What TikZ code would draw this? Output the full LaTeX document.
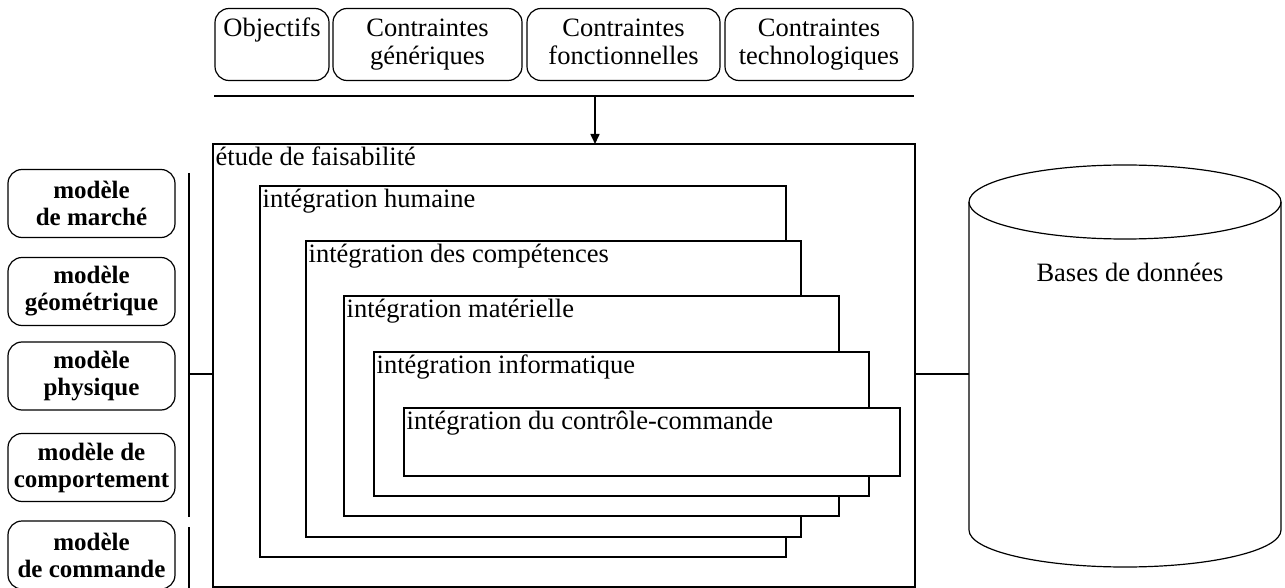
\documentclass[tikz,border=0pt]{standalone}
\usepackage{fontspec}
\setmainfont{Liberation Serif}
\usetikzlibrary{arrows.meta}

\begin{document}
\begin{tikzpicture}[x=1pt, y=-1pt,
    cadre/.style={draw, fill=white, line width=1.2pt, inner sep=0pt, outer sep=0pt, anchor=north west},
    titre/.style={anchor=north west, inner sep=2.5pt, font=\fontsize{26.5}{28}\selectfont},
    contrainte/.style={draw, rounded corners=14pt, line width=1.2pt, align=center, minimum height=72pt, inner sep=2pt, font=\fontsize{26.5}{28}\selectfont},
    modele/.style={draw, rounded corners=14pt, line width=1.2pt, align=center, minimum width=167pt, minimum height=68pt, inner sep=2pt, font=\fontsize{25}{27}\selectfont\bfseries}]
  \useasboundingbox (0,0) rectangle (1285,588);

  % contraintes en haut
  \node[contrainte, minimum width=114pt] (objectifs) at (272,44.5) {\strut Objectifs\\\strut};
  \node[contrainte, minimum width=189pt] (generiques) at (427.5,44.5) {\strut Contraintes\\génériques\strut};
  \node[contrainte, minimum width=193pt] (fonctionnelles) at (623.5,44.5) {\strut Contraintes\\fonctionnelles\strut};
  \node[contrainte, minimum width=188pt] (technologiques) at (819,44.5) {\strut Contraintes\\technologiques\strut};
  \draw [line width=1.8pt] ([yshift=-15pt]objectifs.south west) -- ([yshift=-15pt]technologiques.south east);

  % etude de faisabilite
  \node[draw, line width=2.4pt, minimum width=702pt, minimum height=443pt, inner sep=0pt, outer sep=0pt] (etude) at (564,365.5) {};
  \node[titre] (t-etude) at (etude.north west) {étude de faisabilité};
  \coordinate (depart) at (595,95);
  \draw [-{Triangle[length=10pt,width=9pt]}, line width=1.6pt] (depart) -- (depart |- etude.north);

  \foreach \nom/\x/\y/\w/\h/\texte in {humaine/260/186/526/371/{intégration humaine},
      competences/306/241/495/296/{intégration des compétences},
      materielle/344/296/495/220/{intégration matérielle},
      informatique/374/352/495/144/{intégration informatique},
      controle/404/408/496/68/{intégration du contrôle-commande}}{
    \node[cadre, minimum width=\w pt, minimum height=\h pt] (\nom) at (\x,\y) {};
    \node[titre] (t-\nom) at (\nom.north west) {\texte};
  }

  % modeles a gauche
  \foreach \nom/\y/\texte in {marche/203.5/{modèle\\de marché}, geometrique/291.5/{modèle\\géométrique},
      physique/376/{modèle\\physique}, comportement/467.5/{modèle de\\comportement}, commande/555/{modèle\\de commande}}{
    \node[modele] (\nom) at (91.5,\y) {\texte};
  }
  \coordinate (c1) at (189,173);
  \coordinate (c2) at (189,517);
  \coordinate (c3) at (189,527);
  \coordinate (c4) at (189,588);
  \coordinate (niveau) at (0,374);
  \draw [line width=1.2pt] (c1) -- (c2);
  \draw [line width=1.2pt] (c3) -- (c4);
  \draw [line width=1.2pt] (c1 |- niveau) -- (etude.west |- niveau);

  % bases de donnees
  \node[minimum width=312pt, minimum height=328pt, inner sep=0pt, outer sep=0pt] (bdd) at (1125,366) {};
  \draw [line width=1.2pt] (bdd.north west) -- (bdd.south west) arc[start angle=180, end angle=360, x radius=156pt, y radius=37pt] -- (bdd.north east);
  \draw [line width=1.2pt] (bdd.north) ellipse [x radius=156pt, y radius=37pt];
  \node[font=\fontsize{26.5}{28}\selectfont] (t-bdd) at (1130,272) {Bases de données};
  \draw [line width=1.2pt] (etude.east |- niveau) -- (bdd.west |- niveau);
\end{tikzpicture}
\end{document}
